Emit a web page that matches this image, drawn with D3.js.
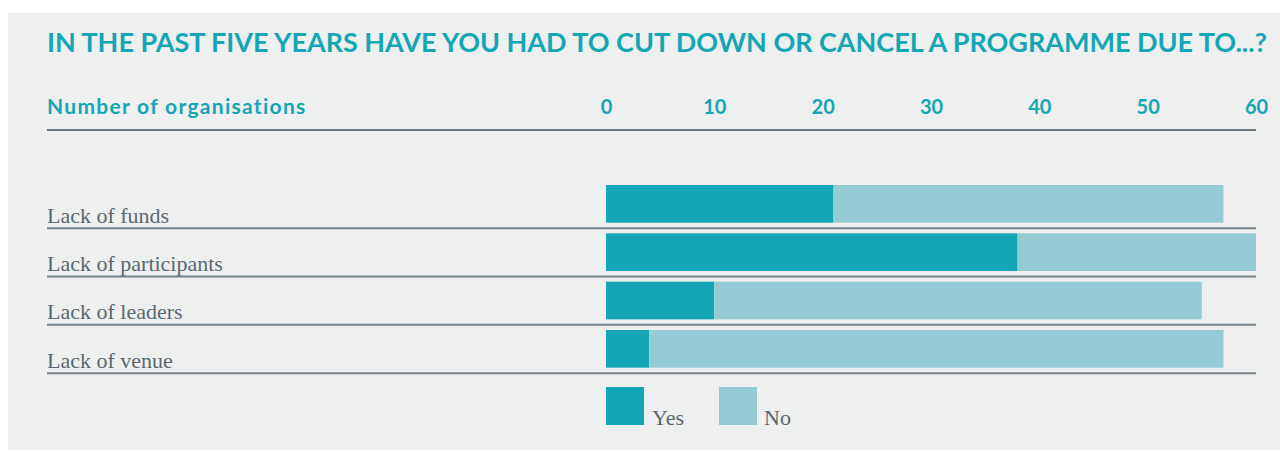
<!DOCTYPE html>
<html>
<head>
<meta charset="utf-8">
<script src="https://cdn.jsdelivr.net/npm/d3@7"></script>
<style>
  html, body { margin: 0; padding: 0; background: #ffffff; }
  svg { display: block; }
</style>
</head>
<body>
<div id="chart"></div>
<script>
// data
var categories = ["Lack of funds", "Lack of participants", "Lack of leaders", "Lack of venue"];
var yesValues = [21, 38, 10, 4];
var noValues = [36, 22, 45, 53];
var seriesNames = ["Yes", "No"];
var tickValues = [0, 10, 20, 30, 40, 50, 60];

var title = "IN THE PAST FIVE YEARS HAVE YOU HAD TO CUT DOWN OR CANCEL A PROGRAMME DUE TO...?";
var axisTitle = "Number of organisations";

var svgwidth = 1280, svgheight = 452;
var teal = "#15a6b5", lightTeal = "#96cbd5", grey = "#5b6870", lineGrey = "#76838a";

var data = categories.map(function(c, i) {
    return {cat: c, yes: yesValues[i], no: noValues[i]};
});

var svg = d3.select("#chart").append("svg")
    .attr("width", svgwidth)
    .attr("height", svgheight);

// panel background
svg.append("rect")
    .attr("x", 8).attr("y", 13)
    .attr("width", svgwidth - 8).attr("height", 437)
    .attr("fill", "#eef0ef");

var x = d3.scaleLinear()
    .domain([0, 60])
    .range([606, 1256]);

var y = d3.scaleBand()
    .domain(categories)
    .range([185, 367.7])
    .paddingInner(0.22)
    .paddingOuter(0);

// fit a text to a width by tweaking letter spacing
function fitText(sel, width) {
    var len = sel.node().getComputedTextLength();
    var n = sel.text().length;
    sel.style("letter-spacing", ((width - len) / n) + "px");
}

// title
var t = svg.append("text")
    .attr("x", 47).attr("y", 52)
    .style("font-family", "Lato, sans-serif")
    .style("font-weight", 700)
    .style("font-size", "27px")
    .style("fill", teal)
    .text(title);
fitText(t, 1220);

var st = svg.append("text")
    .attr("x", 47).attr("y", 114)
    .style("font-family", "Lato, sans-serif")
    .style("font-weight", 700)
    .style("font-size", "21px")
    .style("fill", teal)
    .text(axisTitle);
fitText(st, 260);

// top axis
var xAxis = d3.axisTop(x).tickValues(tickValues).tickSize(0);
var gx = svg.append("g")
    .attr("class", "x axis")
    .attr("transform", "translate(0,114)")
    .call(xAxis);
gx.select(".domain").remove();
gx.selectAll("text")
    .attr("y", 0)
    .attr("dy", 0)
    .style("font-family", "Lato, sans-serif")
    .style("font-weight", 700)
    .style("font-size", "20px")
    .style("fill", teal);

svg.append("line")
    .attr("x1", 47).attr("x2", x(60))
    .attr("y1", 130).attr("y2", 130)
    .attr("stroke", "#6d787e")
    .attr("stroke-width", 2);

// bars
var rows = svg.selectAll(".row")
    .data(data)
  .enter().append("g")
    .attr("class", "row");

rows.append("rect")
    .attr("x", x(0))
    .attr("y", function(d) { return y(d.cat); })
    .attr("width", function(d) { return x(d.yes) - x(0); })
    .attr("height", y.bandwidth())
    .attr("fill", teal);

rows.append("rect")
    .attr("x", function(d) { return x(d.yes); })
    .attr("y", function(d) { return y(d.cat); })
    .attr("width", function(d) { return x(d.yes + d.no) - x(d.yes); })
    .attr("height", y.bandwidth())
    .attr("fill", lightTeal);

rows.append("text")
    .attr("x", 47)
    .attr("y", function(d) { return y(d.cat) + y.bandwidth(); })
    .style("font-family", "'Liberation Serif', serif")
    .style("font-size", "22px")
    .style("fill", grey)
    .text(function(d) { return d.cat; });

rows.append("line")
    .attr("x1", 47).attr("x2", x(60))
    .attr("y1", function(d) { return y(d.cat) + y.bandwidth() + 5.5; })
    .attr("y2", function(d) { return y(d.cat) + y.bandwidth() + 5.5; })
    .attr("stroke", lineGrey)
    .attr("stroke-width", 2);

// legend
var legend = svg.selectAll(".legend")
    .data(seriesNames)
  .enter().append("g")
    .attr("class", "legend")
    .attr("transform", function(d, i) { return "translate(" + (606 + i * 113) + ",387)"; });

legend.append("rect")
    .attr("width", 38).attr("height", 38)
    .attr("fill", function(d, i) { return i === 0 ? teal : lightTeal; });

legend.append("text")
    .attr("x", function(d, i) { return i === 0 ? 46 : 45; })
    .attr("y", 38)
    .style("font-family", "'Liberation Serif', serif")
    .style("font-size", "22px")
    .style("fill", grey)
    .text(function(d) { return d; });
</script>
</body>
</html>
